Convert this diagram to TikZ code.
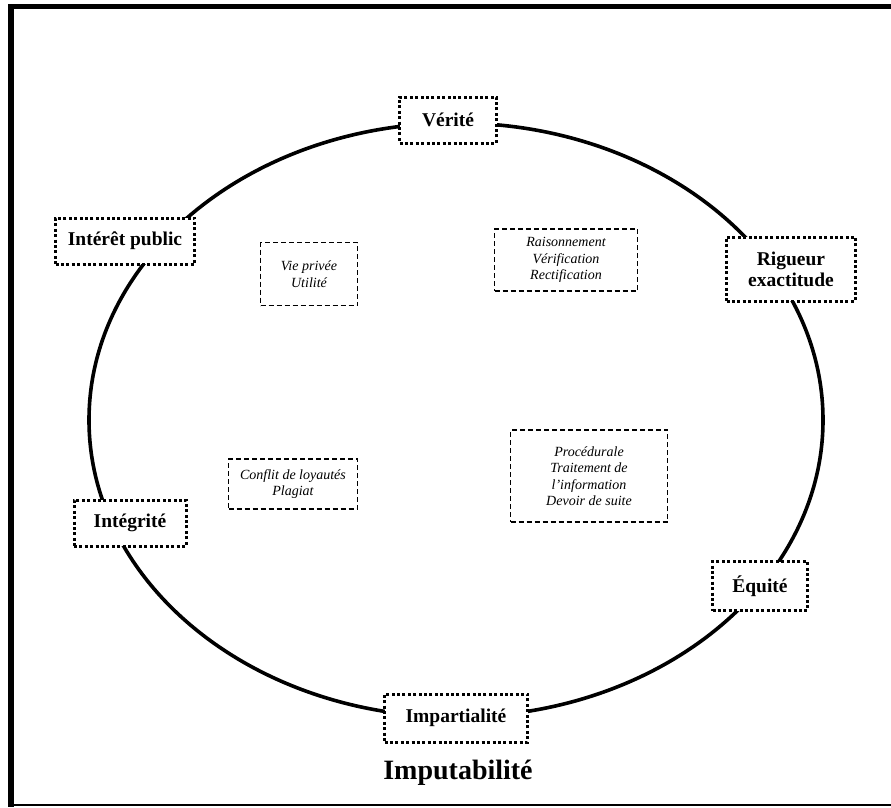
\documentclass[tikz,border=0pt]{standalone}
\usepackage{fontspec}
\setmainfont{Liberation Serif}
\begin{document}
\begin{tikzpicture}[x=1pt,y=-1pt,
  valbox/.style={draw, fill=white, line width=3pt, dash pattern=on 3pt off 2.4pt,
    font=\fontsize{19.5}{21}\selectfont\bfseries, align=center, inner sep=0pt},
  notebox/.style={draw, fill=white, line width=1.6pt, dash pattern=on 5pt off 3pt,
    font=\fontsize{14}{16.5}\selectfont\itshape, align=center, inner sep=0pt}]
\useasboundingbox (0,0) rectangle (891,807);
% frame
\draw[line width=6pt] (11,4) -- (11,807);
\draw[line width=5pt] (8,6.5) -- (891,6.5);
\draw[line width=1.8pt] (8,805) -- (891,805);
% ellipse
\coordinate (c) at (456,420);
\draw[line width=3.6pt] (c) ellipse [x radius=367, y radius=297];
% value boxes
\node[valbox, minimum width=97, minimum height=46] (verite) at (448,120) {Vérité};
\node[valbox, minimum width=139, minimum height=46] (interet) at (125,241) {Intérêt public};
\node[valbox, minimum width=129, minimum height=64] (rigueur) at (791,269) {Rigueur\\exactitude};
\node[valbox, minimum width=112, minimum height=46] (integrite) at (130,523) {Intégrité};
\node[valbox, minimum width=95, minimum height=49] (equite) at (760,586) {Équité};
\node[valbox, minimum width=143, minimum height=48] (impart) at (456,718) {Impartialité};
\node[font=\fontsize{28}{30}\selectfont\bfseries] (imput) at (458,773) {Imputabilité};
% note boxes
\node[notebox, minimum width=97, minimum height=63] (vie) at (309,274) {Vie privée\\Utilité};
\node[notebox, minimum width=143, minimum height=62] (rais) at (566,260) {Raisonnement\\Vérification\\Rectification};
\node[notebox, minimum width=129, minimum height=50] (conf) at (293,484) {Conflit de loyautés\\Plagiat};
\node[notebox, minimum width=157, minimum height=92] (proc) at (589,476) {Procédurale\\Traitement de\\l’information\\Devoir de suite};
\end{tikzpicture}
\end{document}
